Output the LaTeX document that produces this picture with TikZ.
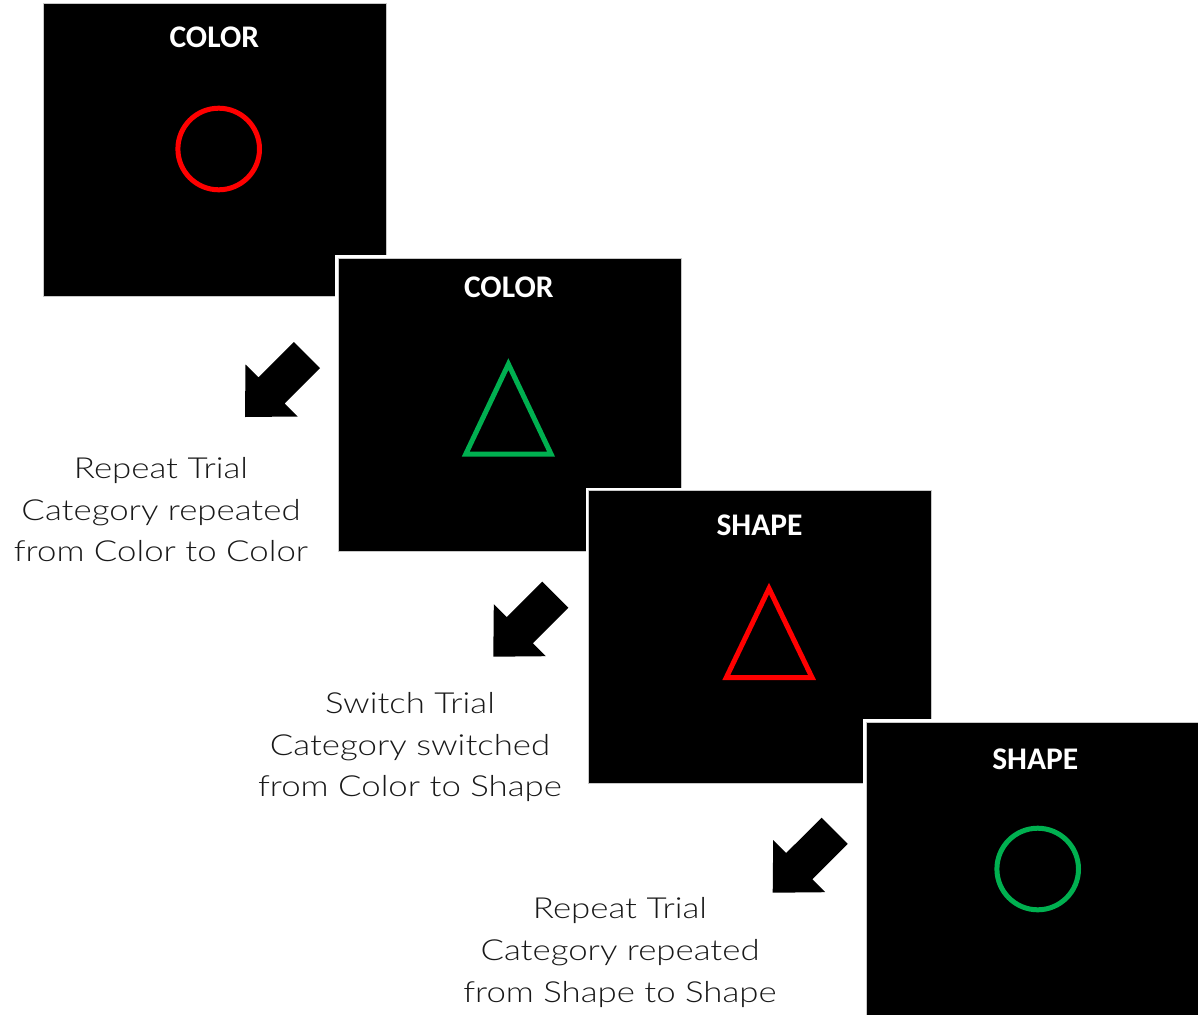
\documentclass[tikz,border=0pt]{standalone}
\usepackage{fontspec}
\setmainfont{Lato Light}[FakeStretch=1.2]
\newfontfamily\titlefont{Carlito}[UprightFont=* Bold]
\definecolor{stimred}{HTML}{FF0000}
\definecolor{stimgreen}{HTML}{00B050}
\definecolor{paneledge}{HTML}{C8C8C8}
\tikzset{
  panel/.style={rectangle, fill=black, draw=paneledge, line width=1pt,
    minimum width=343pt, minimum height=293pt, inner sep=0pt,
    preaction={draw=white, line width=6pt}},
  title/.style={text=white, font=\titlefont\fontsize{31.5}{31.5}\selectfont,
    anchor=base, inner sep=0pt},
  caption/.style={font=\fontsize{29}{41.7}\selectfont, align=center,
    anchor=base, inner sep=0pt, text=black!90},
  stim/.style={line width=5pt, line join=miter},
  blockarrow/.pic={
    \fill[black] (0,0) -- (52.5,-0.5) -- (39.6,-13.4) -- (75,-48.9)
      -- (48.9,-75) -- (13.4,-39.6) -- (0.5,-52.5) -- cycle;
  }
}
\begin{document}
\begin{tikzpicture}[x=1pt,y=-1pt]
\useasboundingbox (0,0) rectangle (1198,1014);
\clip (0,0) rectangle (1198,1014);
\fill[white] (0,0) rectangle (1198,1014);

% panel 1
\node[panel] (p1) at (214.7,150.3) {};
\node[title] (t1) at (214.3,47.7) {COLOR};
\draw[stim, stimred] (218.7,149) circle[radius=40.8pt];

% panel 2
\node[panel] (p2) at (509.5,404.5) {};
\node[title] (t2) at (508.8,297.7) {COLOR};
\draw[stim, stimgreen] (508.4,364.1) -- (465.7,454.2) -- (551.1,454.2) -- cycle;

% panel 3
\node[panel] (p3) at (760,637.2) {};
\node[title] (t3) at (759.5,535.7) {SHAPE};
\draw[stim, stimred] (769,588.5) -- (726.3,677.5) -- (812,677.5) -- cycle;

% panel 4
\node[panel] (p4) at (1037.5,868.5) {};
\node[title] (t4) at (1035.3,769) {SHAPE};
\draw[stim, stimgreen] (1037.7,869) circle[radius=40.8pt];

% arrows
\pic at (245,417) {blockarrow};
\pic at (493.3,656.7) {blockarrow};
\pic at (772.7,892.7) {blockarrow};

% captions (anchor = baseline of the last line)
\node[caption] (c1) at (161,561.7) {Repeat Trial\\Category repeated\\from Color to Color};
\node[caption] (c2) at (410,796.7) {Switch Trial\\Category switched\\from Color to Shape};
\node[caption] (c3) at (620,1002.3) {Repeat Trial\\Category repeated\\from Shape to Shape};
\end{tikzpicture}
\end{document}
